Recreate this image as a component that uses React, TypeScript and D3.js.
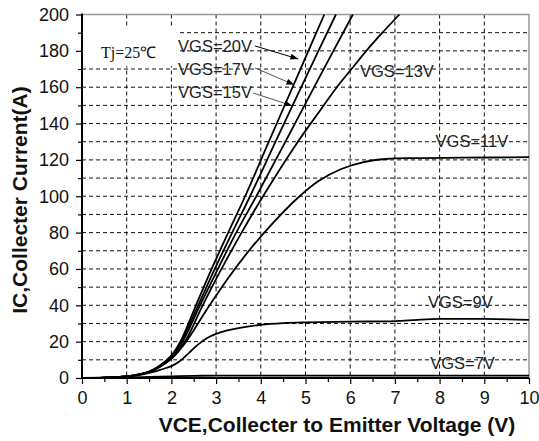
import React, { useEffect, useRef } from 'react';
import * as d3 from 'd3';

type Pt = [number, number];

const xMajor = [0, 1, 2, 3, 4, 5, 6, 7, 8, 9, 10];
const xMinor = [0.5, 1.5, 2.5, 3.5, 4.5, 5.5, 6.5, 7.5, 8.5, 9.5];
const yMajor = [0, 20, 40, 60, 80, 100, 120, 140, 160, 180, 200];
const yMinor = [10, 30, 50, 70, 90, 110, 130, 150, 170, 190];

// VCE (V), IC (A)
const vgs20: Pt[] = [[0, 0], [0.5, 0.2], [1, 0.9], [1.25, 1.8], [1.5, 3.5], [1.75, 7], [2, 12.5], [2.2, 20], [2.55, 40], [2.9, 60], [3.27, 80], [3.65, 100], [4.18, 130], [4.8, 165], [5.42, 200]];
const vgs17: Pt[] = [[0, 0], [0.5, 0.2], [1, 0.9], [1.25, 1.8], [1.5, 3.4], [1.75, 6.8], [2, 12], [2.22, 20], [2.6, 40], [2.97, 60], [3.36, 80], [3.76, 100], [4.33, 130], [5.0, 165], [5.68, 200]];
const vgs15: Pt[] = [[0, 0], [0.5, 0.2], [1, 0.9], [1.25, 1.8], [1.5, 3.4], [1.75, 6.6], [2, 11.5], [2.25, 20], [2.64, 40], [3.04, 60], [3.45, 80], [3.9, 100], [4.55, 130], [5.3, 165], [6.06, 200]];
const vgs13: Pt[] = [[0, 0], [0.5, 0.2], [1, 0.9], [1.25, 1.8], [1.5, 3.3], [1.75, 6.3], [2, 11], [2.3, 20], [2.7, 40], [3.12, 60], [3.57, 80], [4.05, 100], [4.83, 130], [5.35, 148], [5.7, 160], [6.03, 170], [6.36, 180], [6.72, 190], [7.1, 200]];
const vgs11: Pt[] = [[0, 0], [0.5, 0.2], [1, 0.9], [1.25, 1.8], [1.5, 3.3], [1.75, 6.2], [2, 10.5], [2.3, 19], [2.8, 38], [3.3, 56], [3.8, 72], [4.3, 86], [4.8, 98.5], [5.3, 108.5], [5.8, 115], [6.3, 118.8], [6.8, 120.5], [7.5, 121], [8.5, 121.2], [10, 121.5]];
const vgs9: Pt[] = [[0, 0], [0.5, 0.2], [1, 0.8], [1.25, 1.5], [1.5, 2.8], [1.75, 4.5], [2, 6.5], [2.2, 9.5], [2.4, 14], [2.6, 18.5], [2.8, 22], [3, 24.3], [3.25, 26.2], [3.5, 27.5], [4, 29.3], [4.5, 30.2], [5, 30.6], [6, 31], [7, 31.3], [7.5, 32], [8, 32.5], [9, 32.5], [10, 32]];
const vgs7: Pt[] = [[0, 0], [1, 0.3], [1.5, 0.6], [2, 0.9], [2.5, 1.2], [3, 1.3], [6, 1.3], [10, 1.3]];

const series = [vgs20, vgs17, vgs15, vgs13, vgs11, vgs9, vgs7];

// curve labels: text, VCE, IC of the text start/baseline
const labels: [string, number, number][] = [
  ['VGS=20V', 2.15, 179.4],
  ['VGS=17V', 2.15, 166.7],
  ['VGS=15V', 2.15, 154.1],
  ['VGS=13V', 6.22, 165.6],
  ['VGS=11V', 7.91, 127.3],
  ['VGS=9V', 7.74, 38.3],
  ['VGS=7V', 7.79, 4.8],
];

// leader arrows: from (VCE, IC) to (VCE, IC)
const arrows: [number, number, number, number][] = [
  [3.87, 182.7, 4.84, 175.5],
  [3.87, 170.6, 4.75, 161.3],
  [3.83, 156.8, 4.7, 149.8],
];

export default function App() {
  const svgRef = useRef<SVGSVGElement>(null);

  useEffect(() => {
    if (!svgRef.current) return;
    const svg = d3.select(svgRef.current);
    svg.selectAll('*').remove();

    const x = d3.scaleLinear().domain([0, 10]).range([82, 529]);
    const y = d3.scaleLinear().domain([0, 200]).range([378, 14.5]);
    const sans = 'Liberation Sans, Arial, sans-serif';

    svg.append('rect').attr('width', 539).attr('height', 441).attr('fill', '#fff');

    const defs = svg.append('defs');
    defs.append('marker')
      .attr('id', 'arr')
      .attr('viewBox', '0 0 8 6')
      .attr('refX', 8).attr('refY', 3)
      .attr('markerWidth', 8).attr('markerHeight', 6)
      .attr('markerUnits', 'userSpaceOnUse')
      .attr('orient', 'auto')
      .append('path').attr('d', 'M0,0L8,3L0,6Z').attr('fill', '#000');

    // dashed grid
    const grid = svg.append('g')
      .attr('stroke', '#111')
      .attr('stroke-width', 1)
      .attr('stroke-dasharray', '4,3');
    grid.selectAll('line.v').data(xMajor.slice(1, -1)).join('line')
      .attr('x1', d => x(d)).attr('x2', d => x(d))
      .attr('y1', y(200)).attr('y2', y(0));
    grid.selectAll('line.h').data([...yMajor.slice(1, -1), ...yMinor]).join('line')
      .attr('x1', x(0)).attr('x2', x(10))
      .attr('y1', d => y(d)).attr('y2', d => y(d));

    // white box behind Tj label
    svg.append('rect')
      .attr('x', x(0) + 1).attr('y', y(193))
      .attr('width', x(2.12) - x(0) - 1).attr('height', y(171.7) - y(193))
      .attr('fill', '#fff');

    // frame top/right
    svg.append('path')
      .attr('d', `M${x(0)},${y(200)}H${x(10)}V${y(0)}`)
      .attr('fill', 'none').attr('stroke', '#999').attr('stroke-width', 1.5);

    // curves
    const line = d3.line<Pt>()
      .x(d => x(d[0]))
      .y(d => y(d[1]))
      .curve(d3.curveCatmullRom.alpha(0.5));
    svg.append('g').selectAll('path').data(series).join('path')
      .attr('d', d => line(d))
      .attr('fill', 'none')
      .attr('stroke', '#000')
      .attr('stroke-width', 1.8);

    // axes
    const xAxis = svg.append('g').attr('transform', `translate(0,${y(0)})`);
    xAxis.append('g').call(d3.axisBottom(x).tickValues(xMinor).tickSize(4).tickFormat(() => ''));
    xAxis.append('g').call(d3.axisBottom(x).tickValues(xMajor).tickSize(6).tickPadding(7).tickFormat(d3.format('d')));
    const yAxis = svg.append('g').attr('transform', `translate(${x(0)},0)`);
    yAxis.append('g').call(d3.axisLeft(y).tickValues(yMinor).tickSize(4).tickFormat(() => ''));
    yAxis.append('g').call(d3.axisLeft(y).tickValues(yMajor).tickSize(6).tickPadding(7).tickFormat(d3.format('d')));
    svg.selectAll('.domain').remove();
    svg.selectAll('.tick line').attr('stroke', '#000').attr('stroke-width', 1.2);
    svg.selectAll('.tick text')
      .attr('font-family', sans)
      .attr('font-size', 18)
      .attr('fill', '#111');

    svg.append('line')
      .attr('x1', x(0)).attr('x2', x(0)).attr('y1', y(200) - 1).attr('y2', y(0) + 1)
      .attr('stroke', '#000').attr('stroke-width', 2);
    svg.append('line')
      .attr('x1', x(0) - 1).attr('x2', x(10)).attr('y1', y(0)).attr('y2', y(0))
      .attr('stroke', '#000').attr('stroke-width', 2);

    // arrows
    svg.append('g').selectAll('line').data(arrows).join('line')
      .attr('x1', d => x(d[0])).attr('y1', d => y(d[1]))
      .attr('x2', d => x(d[2])).attr('y2', d => y(d[3]))
      .attr('stroke', (d, i) => (i === 0 ? '#000' : '#555'))
      .attr('stroke-width', 1)
      .attr('marker-end', 'url(#arr)');

    // labels
    svg.append('g').selectAll('text').data(labels).join('text')
      .attr('x', d => x(d[1]))
      .attr('y', d => y(d[2]))
      .attr('font-family', sans)
      .attr('font-size', 16.5)
      .attr('fill', '#222')
      .text(d => d[0]);

    svg.append('text')
      .attr('x', x(0.425)).attr('y', y(176.3))
      .attr('font-family', 'Liberation Serif, Times New Roman, serif')
      .attr('font-size', 16)
      .attr('fill', '#111')
      .text('Tj=25℃');

    // axis titles
    svg.append('text')
      .attr('x', 337).attr('y', 432)
      .attr('text-anchor', 'middle')
      .attr('font-family', sans)
      .attr('font-weight', 'bold')
      .attr('font-size', 21)
      .attr('fill', '#111')
      .text('VCE,Collecter to Emitter Voltage (V)');

    svg.append('text')
      .attr('transform', 'translate(27,200) rotate(-90)')
      .attr('text-anchor', 'middle')
      .attr('font-family', sans)
      .attr('font-weight', 'bold')
      .attr('font-size', 21)
      .attr('fill', '#111')
      .text('IC,Collecter Current(A)');
  }, []);

  return (
    <svg
      ref={svgRef}
      width={539}
      height={441}
      style={{ position: 'absolute', left: 0, top: 0 }}
    />
  );
}
